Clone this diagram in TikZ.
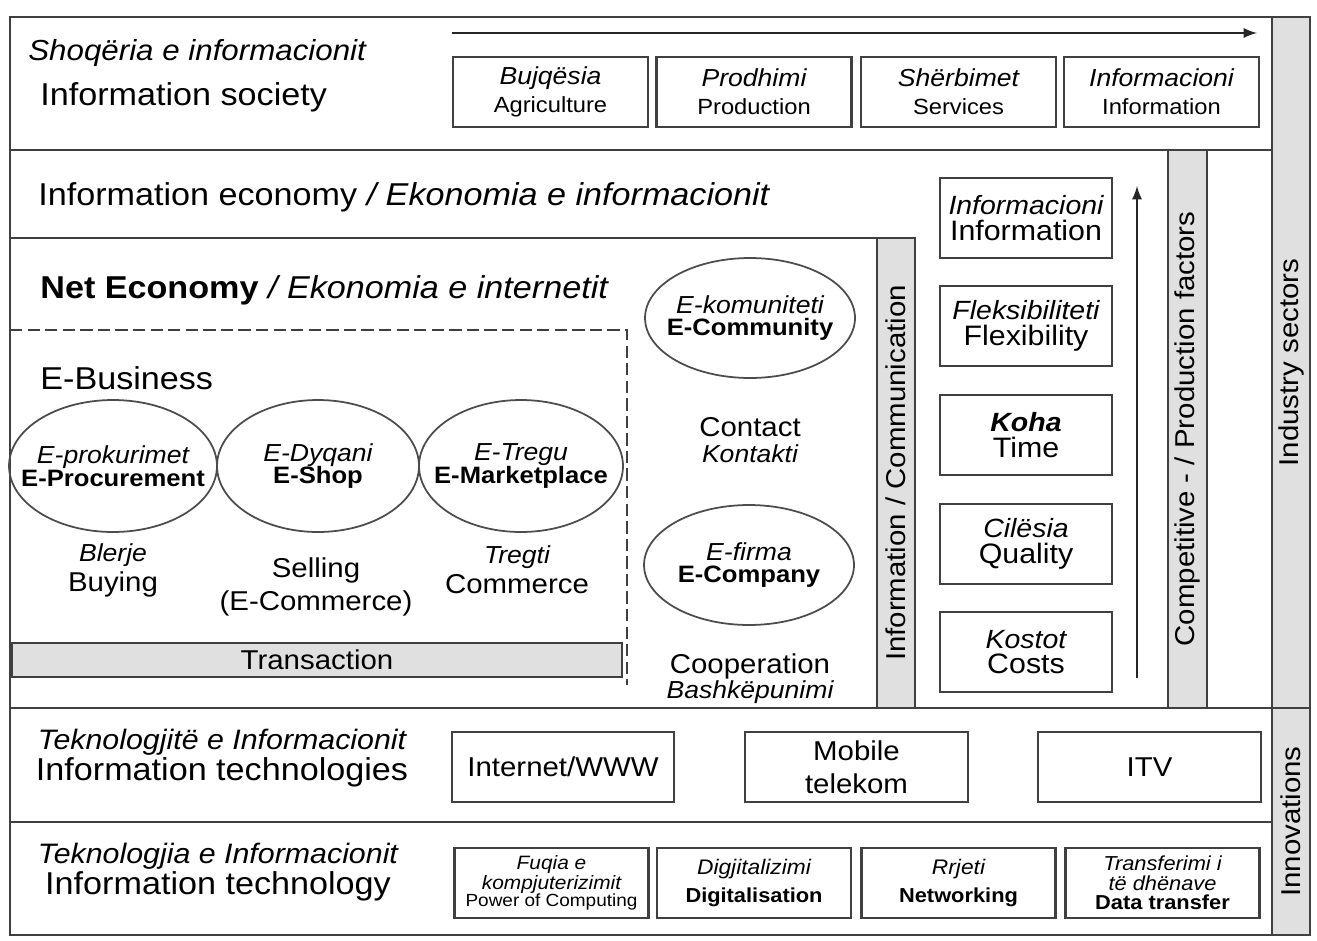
\documentclass[tikz,border=0pt]{standalone}
\usepackage{fontspec}
\setmainfont{Liberation Sans}[FakeStretch=1.08]
\usetikzlibrary{shapes.geometric}
\newcommand{\textsz}[2]{\fontsize{#1}{#2}\selectfont}

\begin{document}
\begin{tikzpicture}[x=0.02cm, y=-0.02cm,
	rule/.style={draw=black!75, line width=1.2pt},
	cellbox/.style={rule, minimum width=3.9cm, minimum height=1.4cm, align=center, inner sep=1pt, font=\textsz{14}{16}},
	factorbox/.style={rule, minimum width=3.44cm, minimum height=1.6cm, align=center, inner sep=1pt, font=\textsz{16}{14.5}},
	techbox/.style={rule, minimum width=4.45cm, minimum height=1.4cm, align=center, inner sep=1pt, font=\textsz{15.5}{19}},
	greybar/.style={rule, fill=black!12, inner sep=0pt, font=\textsz{15.5}{18}},
	oval/.style={ellipse, draw=black!70, line width=1pt, align=center, inner sep=-1.5cm, font=\textsz{14}{13}},
	heading/.style={anchor=west, inner sep=0pt, font=\textsz{18}{20}},
	caption/.style={align=center, inner sep=0pt, font=\textsz{15.5}{17}}]

	\useasboundingbox (0, 0) rectangle (1317, 940);

	\draw[rule] (10, 17) rectangle (1310, 935);
	\draw[rule] (10, 150) -- (1272, 150);
	\draw[rule] (10, 238) -- (877, 238);
	\draw[rule] (10, 708) -- (1272, 708);
	\draw[rule] (10, 822) -- (1272, 822);
	\draw[rule, line width=1pt, dash pattern=on 7pt off 3pt] (10, 330) -- (627, 330) -- (627, 685);

	\node (infocomm) [greybar, rotate=90, minimum width=9.4cm, minimum height=0.76cm] at (896, 473) {Information / Communication};
	\node (factors) [greybar, rotate=90, minimum width=11.16cm, minimum height=0.78cm] at (1187.5, 429) {Competitive - / Production factors};
	\node (sectors) [greybar, rotate=90, minimum width=13.82cm, minimum height=0.76cm] at (1291, 362.5) {Industry sectors};
	\node (innov) [greybar, rotate=90, minimum width=4.54cm, minimum height=0.76cm] at (1291, 821.5) {Innovations};
	\node (trans) [greybar, minimum width=12.2cm, minimum height=0.68cm] at (317, 660) {Transaction};

	\node (socAl) [heading, font=\textsz{16.5}{20}\itshape] at (28, 53) {Shoqëria e informacionit};
	\node (socEn) [heading] at (40, 97) {Information society};
	\node (econ) [heading] at (38, 197) {Information economy \textit{/ Ekonomia e informacionit}};
	\node (net) [heading] at (40, 290) {\textbf{Net Economy} \textit{/ Ekonomia e internetit}};
	\node (ebus) [heading] at (40, 378) {E-Business};
	\node (techs) [caption, font=\textsz{18}{18}] at (222, 758) {{\textsz{16}{18}\itshape Teknologjitë e Informacionit}\\Information technologies};
	\node (tech) [caption, font=\textsz{18}{18}] at (218, 872) {{\textsz{16}{18}\itshape Teknologjia e Informacionit}\\Information technology};

	\node (agri) [cellbox] at (550.5, 92) {{\itshape Bujqësia}\\{\textsz{12.5}{14}Agriculture}};
	\node (prod) [cellbox] at (754, 92) {{\itshape Prodhimi}\\{\textsz{12.5}{14}Production}};
	\node (serv) [cellbox] at (958.5, 92) {{\itshape Shërbimet}\\{\textsz{12.5}{14}Services}};
	\node (info) [cellbox] at (1161.5, 92) {{\itshape Informacioni}\\{\textsz{12.5}{14}Information}};

	\node (procure) [oval, minimum width=4.16cm, minimum height=2.64cm] at (113, 466) {{\itshape E-prokurimet}\\{\textsz{13.5}{13}\bfseries E-Procurement}};
	\node (shop) [oval, minimum width=4.04cm, minimum height=2.64cm] at (318, 466) {{\itshape E-Dyqani}\\{\textsz{13.5}{13}\bfseries E-Shop}};
	\node (market) [oval, minimum width=4.08cm, minimum height=2.64cm] at (521, 466) {{\itshape E-Tregu}\\{\textsz{13.5}{13}\bfseries E-Marketplace}};

	\node (buy) [caption] at (113, 570) {{\textsz{14}{17}\itshape Blerje}\\Buying};
	\node (sell) [caption, font=\textsz{15.5}{19}] at (316, 587) {Selling\\(E-Commerce)};
	\node (comm) [caption] at (517, 570) {{\textsz{14}{17}\itshape Tregti}\\Commerce};

	\node (community) [oval, minimum width=4.2cm, minimum height=2.4cm] at (750, 318) {{\itshape E-komuniteti}\\{\textsz{13.5}{13}\bfseries E-Community}};
	\node (contact) [caption, font=\textsz{15.5}{14.5}] at (750, 440) {Contact\\{\textsz{14}{14}\itshape Kontakti}};
	\node (company) [oval, minimum width=4.2cm, minimum height=2.4cm] at (749, 565) {{\itshape E-firma}\\{\textsz{13.5}{13}\bfseries E-Company}};
	\node (coop) [caption, font=\textsz{15.5}{13}] at (750, 679) {Cooperation\\{\textsz{14}{13}\itshape Bashkëpunimi}};

	\node (f1) [factorbox] at (1026, 218) {{\textsz{15}{14.5}\itshape Informacioni}\\Information};
	\node (f2) [factorbox] at (1026, 326) {{\textsz{15}{14.5}\itshape Fleksibiliteti}\\Flexibility};
	\node (f3) [factorbox] at (1026, 435) {{\textsz{15}{14.5}\bfseries\itshape Koha}\\Time};
	\node (f4) [factorbox] at (1026, 544) {{\textsz{15}{14.5}\itshape Cilësia}\\Quality};
	\node (f5) [factorbox] at (1026, 652) {{\textsz{15}{14.5}\itshape Kostot}\\Costs};

	\node (www) [techbox] at (563, 767) {Internet/WWW};
	\node (mobile) [techbox] at (856.5, 767) {Mobile\\telekom};
	\node (itv) [techbox] at (1149.5, 767) {ITV};

	\node (power) [cellbox, minimum width=3.88cm, font=\textsz{11}{10}] at (551.5, 883) {{\itshape Fuqia e}\\{\itshape kompjuterizimit}\\{\textsz{10}{11}Power of Computing}};
	\node (digit) [cellbox, minimum width=3.88cm, font=\textsz{12}{16}] at (754, 883) {{\itshape Digjitalizimi}\\{\textsz{11.5}{16}\bfseries Digitalisation}};
	\node (netw) [cellbox, minimum width=3.88cm, font=\textsz{12}{16}] at (958.5, 883) {{\itshape Rrjeti}\\{\textsz{11.5}{16}\bfseries Networking}};
	\node (transfer) [cellbox, minimum width=3.88cm, font=\textsz{11.5}{11}] at (1162.5, 883) {{\itshape Transferimi i}\\{\itshape të dhënave}\\{\textsz{11.5}{12}\bfseries Data transfer}};

	\coordinate (sectorA) at (452, 33);
	\coordinate (sectorB) at (1257, 33);
	\coordinate (factorA) at (1137, 678);
	\coordinate (factorB) at (1137, 186);

	\path[line width=1.6pt, black!85, -latex]
	(sectorA) edge (sectorB)
	(factorA) edge (factorB);

\end{tikzpicture}
\end{document}
